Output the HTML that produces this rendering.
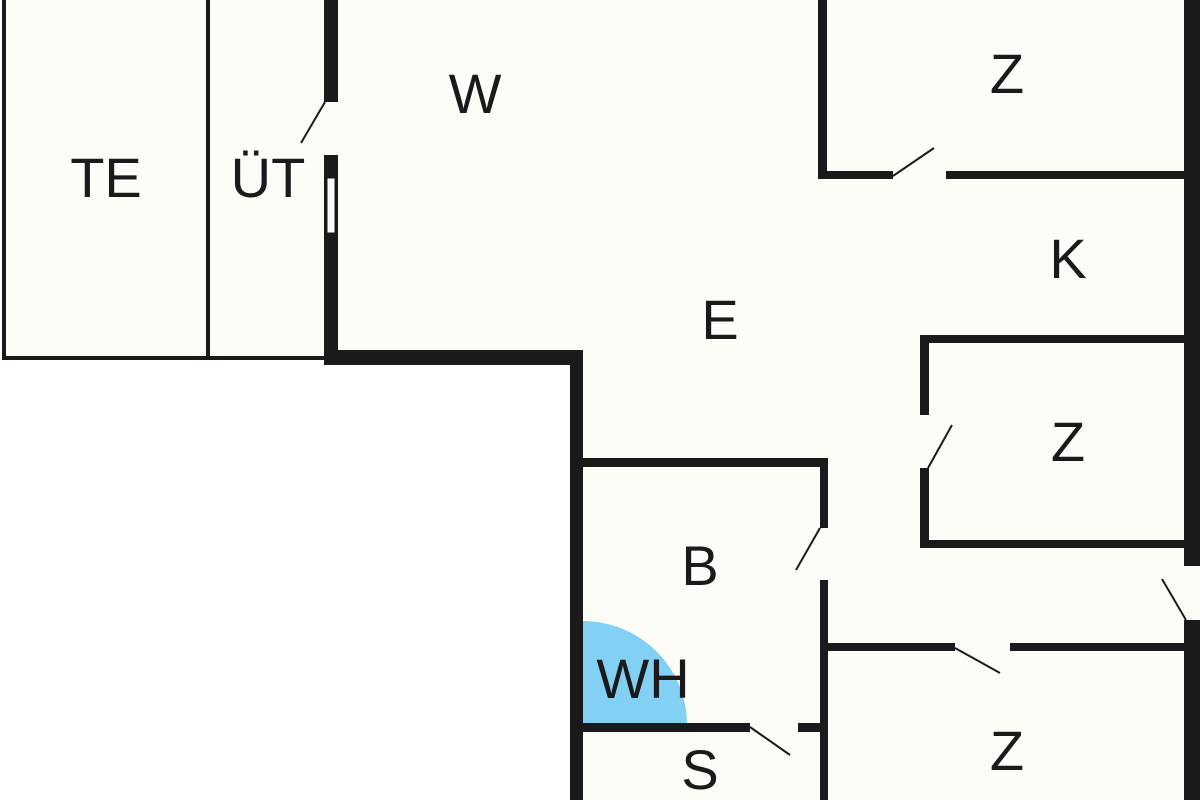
<!DOCTYPE html>
<html><head><meta charset="utf-8"><style>
html,body{margin:0;padding:0;background:#fff;}
svg{display:block;}
text{font-family:"Liberation Sans",sans-serif;fill:#1a1a1a;font-size:56px;text-anchor:middle;}
</style></head><body>
<svg width="1200" height="800" viewBox="0 0 1200 800" xmlns="http://www.w3.org/2000/svg">
<rect width="1200" height="800" fill="#fff"/>
<path d="M0 0 H1200 V800 H577 V358 H0 Z" fill="#fdfdf8"/>
<path d="M583 723 V621 A104 104 0 0 1 687 723 Z" fill="#82d1f4"/>
<g fill="#1a1a1a">
<rect x="2" y="0" width="4" height="360"/>
<rect x="206" y="0" width="4" height="360"/>
<rect x="2" y="356" width="324" height="4"/>
<rect x="324" y="0" width="14" height="102"/>
<rect x="324" y="155" width="14" height="210"/>
<rect x="324" y="350" width="259" height="15"/>
<rect x="570" y="350" width="13" height="450"/>
<rect x="583" y="458" width="245" height="9"/>
<rect x="820" y="458" width="8" height="70"/>
<rect x="820" y="580" width="8" height="220"/>
<rect x="583" y="723" width="167" height="9"/>
<rect x="798" y="723" width="30" height="9"/>
<rect x="818" y="0" width="9" height="179"/>
<rect x="818" y="171" width="75" height="8"/>
<rect x="946" y="171" width="240" height="8"/>
<rect x="1184" y="0" width="16" height="566"/>
<rect x="1184" y="620" width="16" height="180"/>
<rect x="920" y="335" width="266" height="8"/>
<rect x="920" y="335" width="9" height="80"/>
<rect x="920" y="468" width="9" height="80"/>
<rect x="920" y="540" width="266" height="8"/>
<rect x="828" y="643" width="127" height="8"/>
<rect x="1010" y="643" width="176" height="8"/>
</g>
<rect x="327" y="178" width="8" height="55" fill="#fff" stroke="#1a1a1a" stroke-width="1"/>
<g stroke="#1a1a1a" stroke-width="2" fill="none">
<line x1="325" y1="102" x2="301" y2="143"/>
<line x1="893" y1="176" x2="934" y2="148"/>
<line x1="928" y1="468" x2="952" y2="425"/>
<line x1="820" y1="528" x2="796" y2="570"/>
<line x1="1186" y1="620" x2="1162" y2="579"/>
<line x1="955" y1="648" x2="1000" y2="673"/>
<line x1="750" y1="727" x2="790" y2="755"/>
</g>
<text x="106" y="197">TE</text>
<text x="268" y="197">ÜT</text>
<text x="475" y="113">W</text>
<text x="1007" y="93">Z</text>
<text x="1068" y="278">K</text>
<text x="720" y="339">E</text>
<text x="1068" y="461">Z</text>
<text x="700" y="585">B</text>
<text x="643" y="698">WH</text>
<text x="700" y="789">S</text>
<text x="1007" y="770">Z</text>
</svg>
</body></html>
